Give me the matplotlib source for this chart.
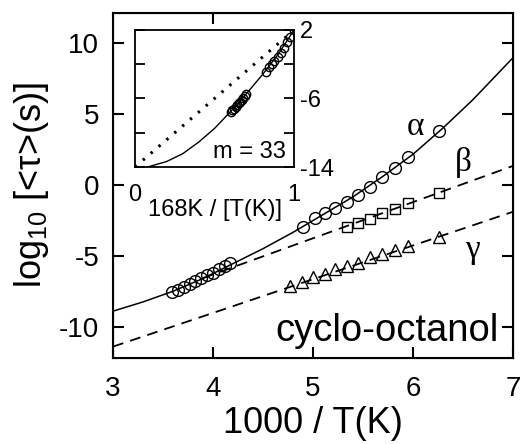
import matplotlib.pyplot as plt

plt.rcParams['font.family'] = ['Liberation Sans', 'DejaVu Sans']
plt.rcParams['mathtext.default'] = 'regular'
plt.rcParams['axes.unicode_minus'] = False

# alpha relaxation (1000/T, log10 tau)
alpha_x = [3.59, 3.65, 3.71, 3.77, 3.82, 3.88, 3.94, 4.00, 4.06, 4.12, 4.17,
           4.90, 5.02, 5.12, 5.22, 5.34, 5.45, 5.57, 5.69, 5.82, 5.95, 6.26]
alpha_y = [-7.58, -7.38, -7.18, -6.98, -6.78, -6.58, -6.38, -6.18, -5.95, -5.72, -5.50,
           -2.95, -2.32, -1.96, -1.61, -1.19, -0.70, -0.14, 0.56, 1.19, 1.96, 3.79]
# beta
beta_x = [5.34, 5.45, 5.57, 5.69, 5.82, 5.95, 6.26]
beta_y = [-2.95, -2.67, -2.39, -1.96, -1.68, -1.26, -0.56]
# gamma
gamma_x = [4.77, 4.89, 5.00, 5.12, 5.22, 5.34, 5.45, 5.57, 5.69, 5.82, 5.95, 6.26]
gamma_y = [-7.16, -6.88, -6.50, -6.30, -5.96, -5.75, -5.54, -5.12, -4.90, -4.56, -4.28, -3.65]

# fit curves
vft_x = [3.0, 3.3, 3.6, 3.9, 4.2, 4.5, 4.8, 5.1, 5.4, 5.7, 6.0, 6.3, 6.6, 7.0]
vft_y = [-8.9, -8.25, -7.5, -6.6, -5.55, -4.5, -3.35, -2.1, -0.85, 0.6, 2.15, 4.0, 6.0, 8.95]
beta_fit_x = [3.9, 7.0]
beta_fit_y = [-6.57, 1.33]
gamma_fit_x = [3.0, 7.0]
gamma_fit_y = [-11.4, -1.9]

# inset (Angell plot)
tg = 168
ins_x = [0.08, 0.2, 0.3, 0.4, 0.5, 0.6, 0.7, 0.8, 0.9, 1.0]
ins_y = [-14, -13.35, -12.45, -11.1, -9.5, -7.55, -5.45, -3.25, -0.85, 2.0]
strong_x = [0, 1]
strong_y = [-14, 2]

fig = plt.figure(figsize=(5.2, 4.44), dpi=100)
ax = fig.add_axes([113/520, 86/444, 400/520, 345/444])

ax.plot(vft_x, vft_y, color='black', lw=1.1)
ax.plot(beta_fit_x, beta_fit_y, color='black', lw=1.3, dashes=(6, 4))
ax.plot(gamma_fit_x, gamma_fit_y, color='black', lw=1.3, dashes=(6, 4))
ax.plot(alpha_x, alpha_y, 'o', ms=8.5, mfc='none', mec='black', mew=1.0)
ax.plot(beta_x, beta_y, 's', ms=7, mfc='none', mec='black', mew=1.0)
ax.plot(gamma_x, gamma_y, '^', ms=8, mfc='none', mec='black', mew=1.0)

serif = ['Liberation Serif', 'DejaVu Serif']
ax.text(6.02, 4.1, 'α', family=serif, fontsize=24, ha='center', va='center')
ax.text(6.5, 1.6, 'β', family=serif, fontsize=24, ha='center', va='center')
ax.text(6.59, -4.6, 'γ', family=serif, fontsize=24, ha='center', va='center')
ax.text(0.965, 0.05, 'cyclo-octanol', transform=ax.transAxes, fontsize=27.5,
        ha='right', va='baseline')

ax.set_xlim(3, 7)
ax.set_ylim(-12.2, 12.1)
ax.set_xticks([3, 4, 5, 6, 7])
ax.set_yticks([-10, -5, 0, 5, 10])
ax.tick_params(direction='in', length=8, width=1.5, labelsize=20, right=True, top=False)
ax.tick_params(axis='x', pad=13)
ax.tick_params(axis='y', pad=10)
for s in ax.spines.values():
    s.set_linewidth(1.5)
ax.set_xlabel('1000 / T(K)', fontsize=26, labelpad=3)
ax.set_ylabel('log$_{10}$ [<τ>(s)]', fontsize=26, labelpad=6)

# single tick on the top edge
top = ax.twiny()
top.set_xlim(ax.get_xlim())
top.set_xticks([4])
top.tick_params(direction='in', length=8, width=1.5, labeltop=False)

ins = fig.add_axes([135/520, 277/444, 159/520, 137/444])
ins.plot(strong_x, strong_y, color='black', lw=2.2, dashes=(0.8, 2.6))
ins.plot(ins_x, ins_y, color='black', lw=1.0)
ins.plot([v * tg / 1000 for v in alpha_x], alpha_y, 'o', ms=6, mfc='none',
         mec='black', mew=1.0)
ins.text(0.95, 0.11, 'm = 33', transform=ins.transAxes, fontsize=17,
         ha='right', va='center')
ins.set_xlim(0, 1)
ins.set_ylim(-14, 2)
ins.set_xticks([0, 1])
ins.set_yticks([-14, -10, -6, -2, 2])
ins.set_yticklabels(['-14', '', '-6', '', '2'])
ins.yaxis.tick_right()
ins.tick_params(axis='y', direction='in', length=7, width=1.3, labelsize=17,
                left=True, right=True, pad=4)
ins.tick_params(axis='x', length=0, labelsize=17, pad=12)
for s in ins.spines.values():
    s.set_linewidth(1.3)
ins.set_xlabel('168K / [T(K)]', fontsize=17, labelpad=-5)

fig.savefig('out.png', dpi=100)
